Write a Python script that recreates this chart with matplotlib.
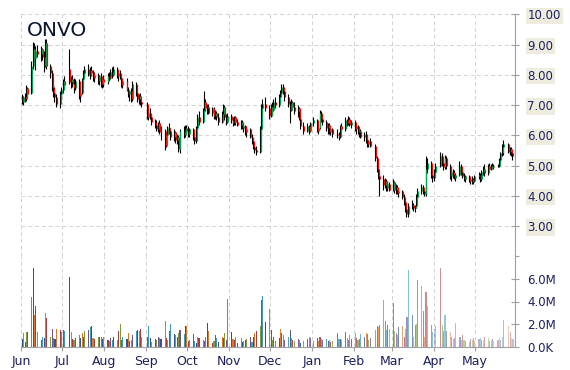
import pandas as pd
import matplotlib
matplotlib.use("Agg")
import matplotlib.pyplot as plt
import matplotlib.dates as mdates
from matplotlib.colors import to_rgba

ticker = "ONVO"

holidays = ["2014-07-04", "2014-09-01", "2014-11-27", "2014-12-25", "2015-01-01",
            "2015-01-19", "2015-02-16", "2015-04-03", "2015-05-25"]

# daily open / high / low / close, one line per month (Jun 2014 .. May 2015)
opens = [
    7.25, 7.10, 7.25, 7.20, 7.55, 7.40, 8.30, 8.85, 8.55, 8.80, 8.70, 8.85, 8.60, 8.30, 9.05, 8.30, 8.05, 7.55, 7.40, 7.25, 7.05,
    7.35, 7.50, 7.80, 8.20, 7.75, 7.85, 7.70, 7.55, 7.80, 7.30, 7.40, 7.85, 8.05, 8.20, 8.00, 8.15, 8.05, 7.90, 8.00, 7.80, 7.95, 7.70,
    7.85, 7.75, 7.95, 7.90, 8.10, 8.00, 8.20, 7.95, 8.05, 7.90, 7.65, 7.80, 7.50, 7.35, 7.45, 7.20, 7.70, 7.40, 7.20, 7.30, 7.10,
    7.05, 6.60, 6.75, 6.60, 6.45, 6.35, 6.20, 6.40, 6.10, 6.15, 5.65, 6.00, 6.25, 6.15, 5.95, 6.10, 5.85, 5.95, 5.55, 6.15, 6.00,
    6.25, 6.15, 6.05, 6.20, 5.95, 5.80, 6.25, 6.60, 6.45, 6.85, 7.10, 6.90, 6.95, 6.75, 6.90, 6.65, 6.75, 6.60, 6.45, 6.70, 6.95, 6.60, 6.45,
    6.65, 6.50, 6.40, 6.60, 6.45, 6.35, 6.45, 6.25, 6.30, 6.10, 6.20, 5.95, 5.80, 5.60, 5.50, 5.45, 6.20, 6.90, 7.05,
    6.90, 6.65, 6.95, 6.85, 7.10, 7.00, 7.25, 7.40, 7.60, 7.45, 7.25, 7.05, 6.85, 7.10, 6.95, 6.80, 6.90, 6.55, 6.30, 6.15, 6.30, 6.15,
    6.40, 6.50, 6.15, 6.25, 6.75, 6.55, 6.45, 6.25, 6.35, 6.10, 6.20, 6.05, 6.00, 5.95, 6.30, 6.20, 6.50, 6.40, 6.55, 6.35,
    6.45, 6.20, 6.30, 6.10, 6.15, 5.95, 6.05, 5.85, 5.70, 5.80, 5.65, 5.25, 4.90, 4.65, 4.55, 4.35, 4.50, 4.25, 4.40,
    4.20, 4.45, 4.20, 4.30, 4.10, 4.15, 3.95, 3.80, 3.55, 3.40, 3.65, 3.70, 3.60, 3.65, 3.95, 4.15, 4.30, 4.15, 4.05, 4.90, 5.10, 4.70,
    4.60, 4.80, 5.00, 5.30, 5.10, 4.95, 5.25, 5.00, 4.65, 4.80, 4.70, 4.60, 4.70, 5.00, 4.80, 4.65, 4.55, 4.65, 4.50, 4.55, 4.45,
    4.50, 4.65, 4.70, 4.55, 4.80, 4.90, 4.75, 5.00, 4.90, 5.00, 4.95, 5.00, 5.00, 5.20, 5.40, 5.60, 5.70, 5.45, 5.55, 5.40,
]
highs = [
    7.35, 7.30, 7.40, 7.65, 7.60, 8.45, 9.10, 9.05, 8.95, 9.00, 8.95, 8.90, 8.80, 9.20, 9.20, 8.35, 8.15, 7.70, 7.60, 7.35, 7.45,
    7.60, 7.85, 7.95, 8.85, 7.95, 8.00, 7.90, 7.85, 7.85, 7.45, 7.90, 8.15, 8.30, 8.35, 8.25, 8.30, 8.15, 8.10, 8.05, 8.00, 8.05, 7.90,
    8.00, 8.05, 8.10, 8.20, 8.25, 8.30, 8.25, 8.10, 8.15, 8.00, 7.85, 7.90, 7.60, 7.50, 7.55, 7.80, 7.75, 7.45, 7.35, 7.40, 7.20,
    7.10, 6.85, 6.90, 6.70, 6.55, 6.50, 6.45, 6.50, 6.30, 6.20, 6.10, 6.30, 6.40, 6.25, 6.20, 6.15, 6.05, 6.00, 6.20, 6.30, 6.35,
    6.35, 6.30, 6.25, 6.25, 6.05, 6.30, 6.70, 6.80, 6.90, 7.45, 7.20, 7.05, 7.05, 6.95, 6.95, 6.85, 6.80, 6.75, 6.80, 7.05, 7.00, 6.70, 6.75,
    6.70, 6.60, 6.65, 6.65, 6.55, 6.50, 6.50, 6.40, 6.35, 6.30, 6.25, 6.05, 5.90, 5.75, 5.65, 6.30, 7.05, 7.20, 7.25,
    7.00, 7.05, 7.10, 7.20, 7.25, 7.35, 7.50, 7.70, 7.70, 7.55, 7.35, 7.15, 7.20, 7.15, 7.10, 7.00, 6.95, 6.60, 6.45, 6.40, 6.35, 6.45,
    6.60, 6.55, 6.35, 6.85, 6.80, 6.70, 6.50, 6.40, 6.40, 6.30, 6.25, 6.20, 6.10, 6.35, 6.40, 6.60, 6.55, 6.65, 6.60, 6.50,
    6.50, 6.35, 6.35, 6.20, 6.20, 6.10, 6.15, 5.95, 5.85, 5.90, 5.70, 5.30, 5.00, 4.75, 4.70, 4.60, 4.55, 4.50, 4.45,
    4.55, 4.50, 4.40, 4.35, 4.25, 4.20, 4.05, 3.85, 3.65, 3.75, 3.85, 3.75, 3.70, 4.05, 4.25, 4.40, 4.35, 4.20, 5.30, 5.25, 5.15, 4.85,
    4.90, 5.10, 5.45, 5.40, 5.20, 5.35, 5.30, 5.05, 4.85, 4.90, 4.85, 4.75, 5.15, 5.05, 4.85, 4.75, 4.70, 4.70, 4.60, 4.65, 4.60,
    4.70, 4.80, 4.75, 4.85, 5.00, 5.05, 5.05, 5.10, 5.05, 5.10, 5.05, 5.05, 5.25, 5.45, 5.70, 5.85, 5.75, 5.60, 5.60, 5.50,
]
lows = [
    7.05, 7.00, 7.10, 7.15, 7.25, 7.35, 8.20, 8.40, 8.15, 8.60, 8.45, 8.50, 8.10, 8.25, 8.20, 7.90, 7.45, 7.25, 7.10, 6.95, 6.90,
    7.20, 7.40, 7.55, 7.70, 7.55, 7.60, 7.40, 7.50, 7.20, 7.10, 7.35, 7.70, 7.90, 7.95, 7.85, 7.95, 7.80, 7.75, 7.70, 7.65, 7.60, 7.55,
    7.60, 7.70, 7.80, 7.85, 7.90, 7.95, 7.90, 7.80, 7.85, 7.60, 7.55, 7.45, 7.25, 7.15, 7.10, 7.15, 7.30, 7.10, 7.05, 7.00, 6.95,
    6.55, 6.50, 6.55, 6.35, 6.25, 6.15, 6.10, 6.05, 5.85, 5.50, 5.60, 5.90, 6.05, 5.85, 5.80, 5.75, 5.70, 5.45, 5.40, 5.90, 5.95,
    6.05, 5.95, 5.95, 5.85, 5.70, 5.75, 6.20, 6.35, 6.40, 6.75, 6.80, 6.70, 6.70, 6.65, 6.55, 6.55, 6.50, 6.35, 6.40, 6.60, 6.50, 6.35, 6.40,
    6.40, 6.30, 6.35, 6.35, 6.30, 6.20, 6.20, 6.10, 6.00, 5.95, 5.90, 5.70, 5.55, 5.40, 5.35, 5.40, 6.10, 6.70, 6.80,
    6.55, 6.60, 6.75, 6.80, 6.90, 6.95, 7.10, 7.30, 7.35, 7.15, 6.95, 6.40, 6.80, 6.85, 6.70, 6.60, 6.50, 6.20, 6.05, 6.10, 6.05, 6.10,
    6.30, 6.10, 6.05, 6.20, 6.45, 6.35, 6.15, 6.05, 6.05, 6.00, 5.95, 5.90, 5.85, 5.90, 6.15, 6.15, 6.30, 6.35, 6.30, 6.25,
    6.15, 6.05, 6.05, 5.95, 5.90, 5.80, 5.75, 5.60, 5.60, 5.60, 5.15, 4.80, 4.55, 4.00, 4.20, 4.25, 4.15, 4.15, 4.15,
    4.15, 4.10, 4.05, 4.05, 3.95, 3.90, 3.70, 3.45, 3.30, 3.30, 3.55, 3.50, 3.45, 3.60, 3.90, 4.05, 4.05, 4.00, 4.00, 4.75, 4.60, 4.45,
    4.50, 4.70, 4.95, 5.00, 4.85, 4.90, 4.90, 4.55, 4.50, 4.60, 4.55, 4.50, 4.65, 4.70, 4.60, 4.50, 4.45, 4.45, 4.40, 4.40, 4.40,
    4.45, 4.55, 4.45, 4.50, 4.70, 4.65, 4.70, 4.85, 4.85, 4.90, 4.90, 4.95, 4.95, 5.10, 5.30, 5.35, 5.40, 5.35, 5.30, 5.20,
]
closes = [
    7.10, 7.25, 7.20, 7.55, 7.35, 8.30, 8.85, 8.55, 8.80, 8.70, 8.85, 8.60, 8.30, 9.05, 8.30, 8.05, 7.55, 7.40, 7.25, 7.05, 7.35,
    7.50, 7.80, 7.65, 7.75, 7.85, 7.70, 7.55, 7.80, 7.30, 7.40, 7.85, 8.05, 8.20, 8.00, 8.15, 8.05, 7.90, 8.00, 7.80, 7.95, 7.70, 7.85,
    7.75, 7.95, 7.90, 8.10, 8.00, 8.20, 7.95, 8.05, 7.90, 7.65, 7.80, 7.50, 7.35, 7.45, 7.20, 7.70, 7.40, 7.20, 7.30, 7.10, 7.05,
    6.60, 6.75, 6.60, 6.45, 6.35, 6.20, 6.40, 6.10, 6.15, 5.65, 6.00, 6.25, 6.15, 5.95, 6.10, 5.85, 5.95, 5.55, 6.15, 6.00, 6.25,
    6.15, 6.05, 6.20, 5.95, 5.80, 6.25, 6.60, 6.45, 6.85, 7.10, 6.90, 6.95, 6.75, 6.90, 6.65, 6.75, 6.60, 6.45, 6.70, 6.95, 6.60, 6.45, 6.65,
    6.50, 6.40, 6.60, 6.45, 6.35, 6.45, 6.25, 6.30, 6.10, 6.20, 5.95, 5.80, 5.60, 5.50, 5.45, 6.20, 6.90, 7.05, 6.90,
    6.65, 6.95, 6.85, 7.10, 7.00, 7.25, 7.40, 7.60, 7.45, 7.25, 7.05, 6.85, 7.10, 6.95, 6.80, 6.90, 6.55, 6.30, 6.15, 6.30, 6.15, 6.40,
    6.50, 6.15, 6.25, 6.75, 6.55, 6.45, 6.25, 6.35, 6.10, 6.20, 6.05, 6.00, 5.95, 6.30, 6.20, 6.50, 6.40, 6.55, 6.35, 6.45,
    6.20, 6.30, 6.10, 6.15, 5.95, 6.05, 5.85, 5.70, 5.80, 5.65, 5.25, 4.90, 4.65, 4.55, 4.35, 4.50, 4.25, 4.40, 4.20,
    4.45, 4.20, 4.30, 4.10, 4.15, 3.95, 3.80, 3.55, 3.40, 3.65, 3.70, 3.60, 3.65, 3.95, 4.15, 4.30, 4.15, 4.05, 4.90, 5.10, 4.70, 4.60,
    4.80, 5.00, 5.30, 5.10, 4.95, 5.25, 5.00, 4.65, 4.80, 4.70, 4.60, 4.70, 5.00, 4.80, 4.65, 4.55, 4.65, 4.50, 4.55, 4.45, 4.50,
    4.65, 4.70, 4.55, 4.80, 4.90, 4.75, 5.00, 4.90, 5.00, 4.95, 5.00, 5.00, 5.20, 5.40, 5.60, 5.70, 5.45, 5.55, 5.40, 5.30,
]
# volume in millions of shares
volumes = [
    0.7, 1.2, 0.4, 1.3, 1.3, 4.4, 7.0, 2.8, 3.6, 1.3, 0.6, 0.9, 0.8, 3.0, 2.5, 0.9, 1.6, 0.8, 0.7, 1.6, 1.5,
    1.3, 1.5, 1.4, 6.2, 1.3, 0.7, 0.6, 0.8, 1.0, 0.8, 1.2, 0.9, 1.4, 1.5, 1.7, 1.8, 0.8, 0.7, 0.9, 0.9, 0.9, 0.7,
    0.9, 0.6, 0.5, 0.8, 0.6, 0.9, 0.6, 1.4, 2.0, 0.6, 0.9, 0.7, 1.2, 0.5, 0.6, 1.0, 1.4, 1.5, 1.4, 1.6, 0.9,
    0.9, 1.8, 0.8, 0.4, 0.7, 0.6, 0.9, 0.8, 0.7, 2.3, 0.8, 0.6, 1.4, 2.0, 1.1, 1.0, 0.9, 1.2, 1.5, 1.1, 1.8,
    1.8, 0.5, 0.6, 1.1, 0.5, 0.3, 0.9, 0.8, 0.6, 0.5, 0.9, 2.1, 1.4, 0.3, 0.5, 1.0, 0.8, 0.4, 0.9, 0.8, 1.2, 0.6, 4.2,
    1.3, 0.7, 0.6, 0.9, 0.3, 0.8, 0.4, 0.5, 0.6, 0.7, 0.9, 0.4, 0.9, 1.2, 1.4, 1.8, 4.1, 4.5, 2.2,
    3.3, 1.5, 0.6, 0.9, 0.5, 0.8, 1.6, 1.2, 1.0, 0.6, 0.9, 1.5, 0.8, 0.6, 0.5, 0.7, 0.6, 0.3, 0.5, 0.7, 0.9, 0.8,
    0.5, 0.8, 0.5, 0.9, 0.7, 0.6, 0.7, 0.5, 0.6, 0.4, 0.5, 1.2, 0.7, 0.7, 0.6, 1.3, 0.8, 0.6, 1.0, 0.7,
    1.2, 0.8, 0.6, 0.7, 1.1, 0.9, 1.2, 1.1, 0.6, 0.8, 1.5, 1.8, 1.7, 1.9, 4.1, 2.3, 1.5, 1.9, 1.6,
    3.9, 1.4, 1.2, 1.0, 1.7, 1.8, 0.9, 1.6, 2.6, 6.8, 2.8, 0.9, 1.9, 2.0, 5.9, 5.4, 3.2, 0.9, 4.8, 3.6, 1.9, 1.3,
    1.6, 1.8, 7.0, 1.9, 1.4, 2.8, 1.4, 1.3, 0.9, 0.7, 0.8, 2.1, 0.9, 0.6, 1.0, 0.6, 0.5, 0.4, 0.7, 0.6, 0.8,
    0.5, 0.7, 0.8, 0.6, 0.6, 0.9, 0.8, 0.5, 0.6, 0.7, 0.5, 0.6, 0.8, 0.6, 0.9, 2.4, 1.8, 1.3, 0.8, 0.7,
]

month_labels = ["Jun", "Jul", "Aug", "Sep", "Oct", "Nov", "Dec", "Jan", "Feb", "Mar", "Apr", "May"]
price_ticks = [2, 3, 4, 5, 6, 7, 8, 9, 10]
volume_ticks = [0, 2, 4, 6]
volume_tick_labels = ["0.0K", "2.0M", "4.0M", "6.0M"]

dates = pd.bdate_range("2014-06-02", "2015-05-29")
dates = dates[~dates.isin(pd.to_datetime(holidays))]
assert len(dates) == len(closes) == len(opens) == len(highs) == len(lows) == len(volumes)
x = mdates.date2num(dates.to_pydatetime())

month_pos = mdates.date2num(pd.date_range("2014-06-01", periods=12, freq="MS").to_pydatetime())
x_start = mdates.date2num(pd.Timestamp("2014-06-01").to_pydatetime())
x_end = mdates.date2num(pd.Timestamp("2015-05-30 12:00").to_pydatetime())

navy = "#1b1f5e"
grid_kw = dict(color="#d2d2d2", linestyle=(0, (4, 3)), linewidth=0.7)
spine_col = "#a0a0a0"

fig = plt.figure(figsize=(5.7, 3.7), dpi=100)
W, H = 570, 370
ax = fig.add_axes([21 / W, 1 - 256.3 / H, 494 / W, 242 / H])
axv = fig.add_axes([21 / W, 1 - 346.7 / H, 494 / W, 90.4 / H])

# price candles: black wick with the coloured body next to it
up = [c >= o for o, c in zip(opens, closes)]
ax.vlines(x - 0.35, lows, highs, color="black", linewidth=0.8)
ax.vlines(x + 0.35, [min(o, c) for o, c in zip(opens, closes)],
          [max(o, c) for o, c in zip(opens, closes)],
          color=["#00a651" if u else "#ff0000" for u in up], linewidth=0.9)

ax.set_xlim(x_start, x_end)
ax.set_ylim(2, 10)
ax.set_yticks(price_ticks)
ax.set_yticklabels(["" if p == 2 else f"{p:.2f}" for p in price_ticks])
ax.yaxis.tick_right()
ax.set_xticks(month_pos)
ax.tick_params(axis="x", bottom=False, labelbottom=False)
ax.tick_params(axis="y", direction="inout", length=6, width=0.8, color=spine_col,
               labelcolor=navy, labelsize=8.5, pad=6)
for lab in ax.get_yticklabels():
    lab.set_bbox(dict(facecolor="#eeebdf", edgecolor="none", pad=1.2))
ax.grid(True, **grid_kw)
for s in ["left", "top", "bottom"]:
    ax.spines[s].set_visible(False)
ax.spines["right"].set_color(spine_col)
ax.text(0.012, 0.935, ticker, transform=ax.transAxes, fontsize=14.5,
        color="#0a1530", va="center", ha="left")

# volume bars, multicoloured and fading toward the right
palette = ["#34558b", "#d9782d", "#a83c3c", "#7f9c3c", "#6e5494", "#3c9cb8"]
n = len(volumes)
bar_cols = []
for i in range(n):
    frac = i / (n - 1)
    alpha = 1.0 if frac < 0.5 else 1.0 - (frac - 0.5) / 0.5 * 0.62
    bar_cols.append(to_rgba(palette[i % len(palette)], alpha))
axv.bar(x, [v * 1e6 for v in volumes], width=0.8, color=bar_cols, linewidth=0)

axv.set_xlim(x_start, x_end)
axv.set_ylim(0, 8e6)
axv.set_yticks([t * 1e6 for t in volume_ticks])
axv.set_yticklabels(volume_tick_labels)
axv.yaxis.tick_right()
axv.set_xticks(month_pos)
axv.set_xticklabels(month_labels)
axv.tick_params(axis="x", direction="out", length=3, width=0.8, color=spine_col,
                labelcolor=navy, labelsize=9, pad=3)
axv.tick_params(axis="y", direction="inout", length=6, width=0.8, color=spine_col,
                labelcolor=navy, labelsize=8.5, pad=6)
axv.grid(True, axis="x", **grid_kw)
for s in ["left", "top"]:
    axv.spines[s].set_visible(False)
axv.spines["right"].set_color(spine_col)
axv.spines["bottom"].set_color(spine_col)

fig.savefig("out.png", dpi=100)
